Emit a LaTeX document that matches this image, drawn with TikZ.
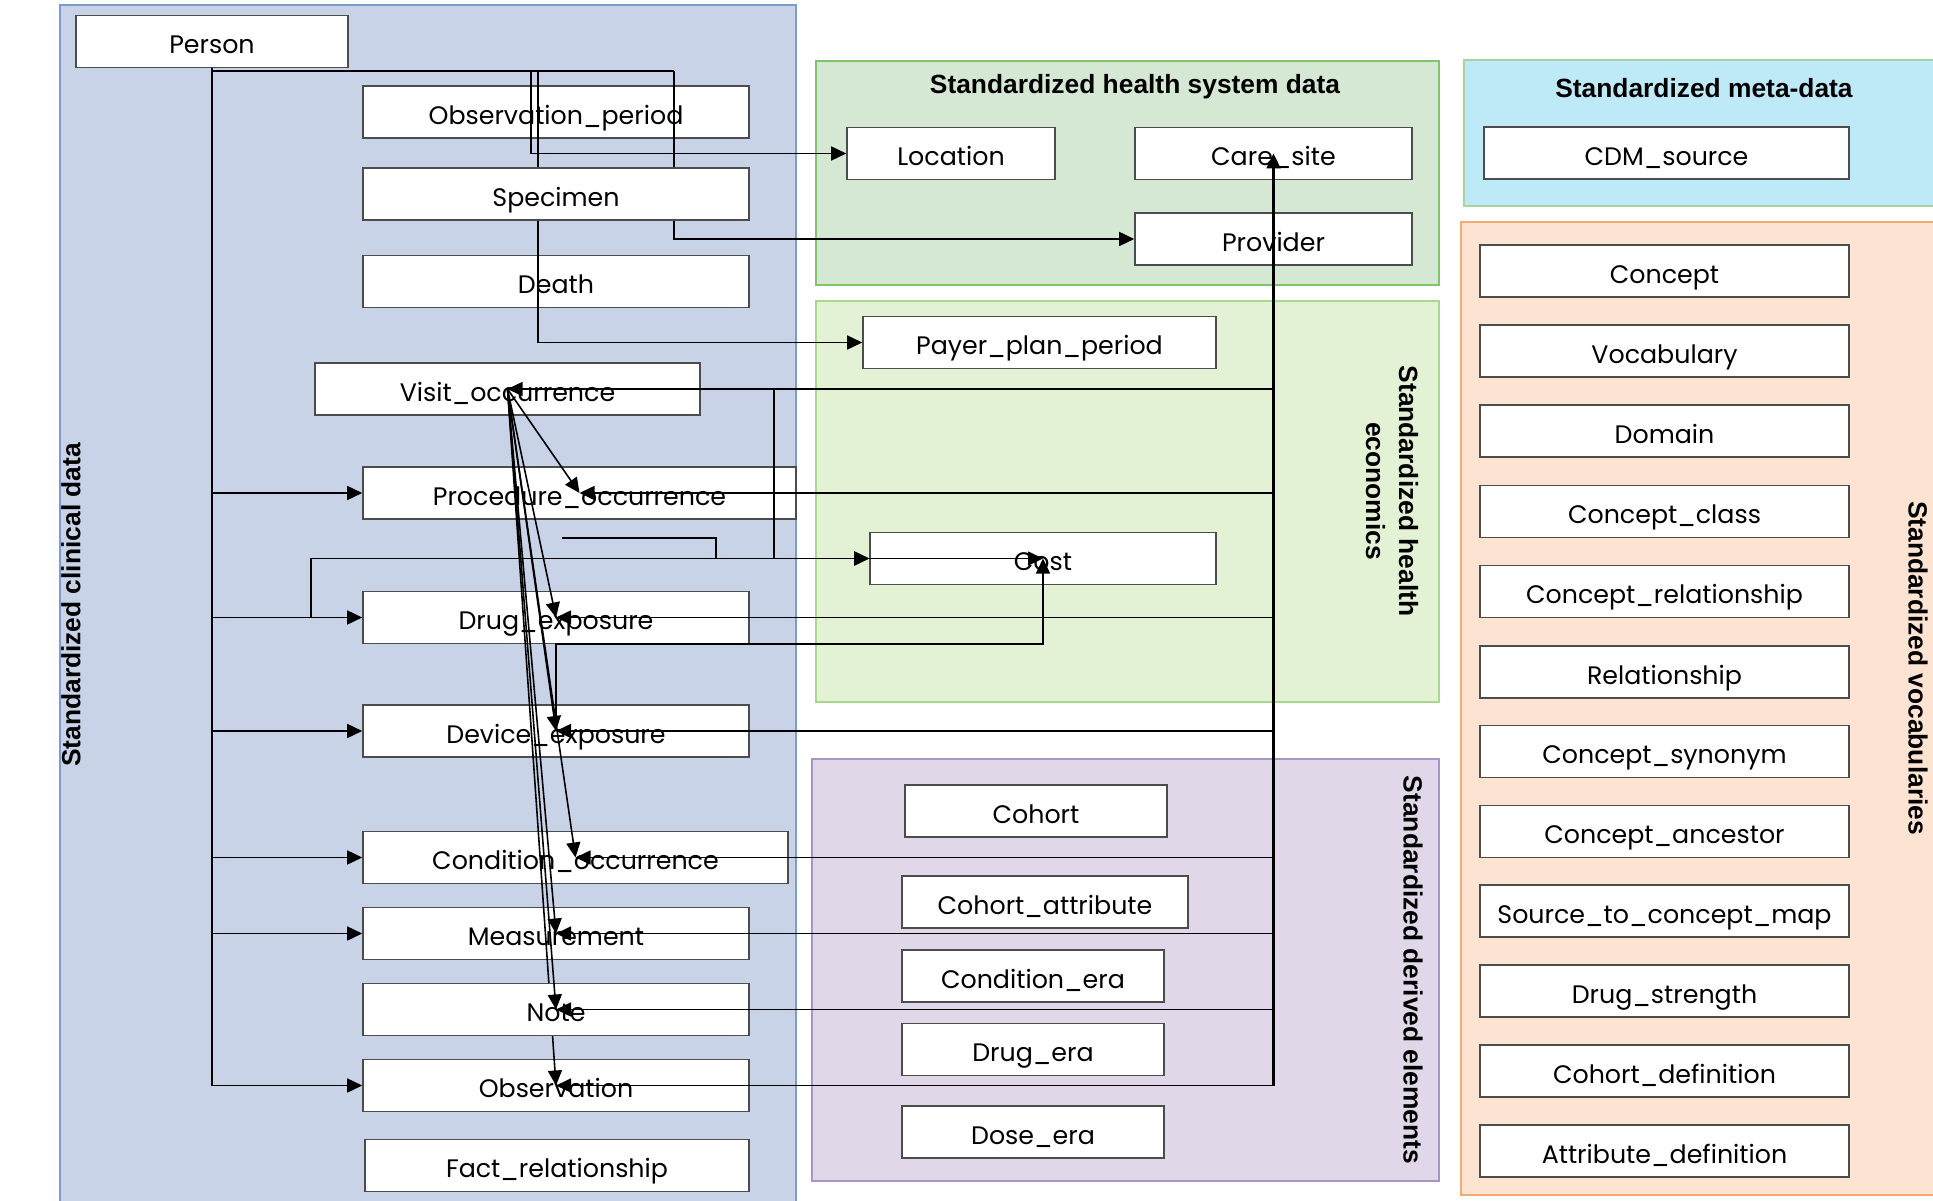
\documentclass[tikz,border=0pt]{standalone}
\usepackage{fontspec}
\newfontfamily\tablefont{Poppins}
\newfontfamily\headfont{Liberation Sans}
\usepackage{tikz}
\definecolor{cdmblue}{RGB}{201,211,232}
\definecolor{cdmblueline}{RGB}{126,155,208}
\definecolor{cdmgreen}{RGB}{213,232,212}
\definecolor{cdmgreenline}{RGB}{130,195,110}
\definecolor{cdmlime}{RGB}{227,241,213}
\definecolor{cdmlimeline}{RGB}{168,217,138}
\definecolor{cdmviolet}{RGB}{224,216,233}
\definecolor{cdmvioletline}{RGB}{168,149,200}
\definecolor{cdmcyan}{RGB}{190,234,248}
\definecolor{cdmcyanline}{RGB}{167,211,160}
\definecolor{cdmpeach}{RGB}{253,228,210}
\definecolor{cdmpeachline}{RGB}{244,170,112}
\usetikzlibrary{
  arrows.meta,
  calc
}

\begin{document}
\begin{tikzpicture}[
  panel/.style={line width=0.5pt},
  cdmtable/.style={
    draw=black!70, fill=white, line width=0.45pt,
    minimum height=0.52cm, inner sep=0pt,
    text height=0.7em, text depth=0pt,
    font=\tablefont\fontsize{7.2}{9}\selectfont
  },
  head/.style={
    font=\headfont\bfseries\fontsize{7.5}{9.4}\selectfont,
    align=center
  },
  link/.style={line width=0.45pt},
  trunk/.style={line width=0.65pt},
  arr/.style={-{Triangle[length=0.15cm,width=0.14cm]}, line width=0.45pt},
]
\useasboundingbox (0,0) rectangle (19.33,-12.01);

% Panels
\draw[panel, fill=cdmblue,   draw=cdmblueline]   (0.60,-0.05) rectangle (7.96,-12.10);
\draw[panel, fill=cdmgreen,  draw=cdmgreenline]  (8.16,-0.61) rectangle (14.39,-2.85);
\draw[panel, fill=cdmlime,   draw=cdmlimeline]   (8.16,-3.01) rectangle (14.39,-7.02);
\draw[panel, fill=cdmviolet, draw=cdmvioletline] (8.12,-7.59) rectangle (14.39,-11.81);
\draw[panel, fill=cdmcyan,   draw=cdmcyanline]   (14.64,-0.60) rectangle (19.40,-2.06);
\draw[panel, fill=cdmpeach,  draw=cdmpeachline]  (14.61,-2.22) rectangle (19.40,-11.95);

\node[head, rotate=90]  (clintitle)  at (0.71,-6.05)  {Standardized clinical data};
\node[head]             (hsystitle)  at (11.35,-0.87) {Standardized health system data};
\node[head, rotate=-90] (econtitle)  at (13.92,-4.91) {Standardized health\\economics};
\node[head, rotate=-90] (derivtitle) at (14.13,-9.70) {Standardized derived elements};
\node[head]             (metatitle)  at (17.04,-0.88) {Standardized meta-data};
\node[head, rotate=-90] (vocabtitle) at (19.18,-6.68) {Standardized vocabularies};

% Standardized clinical data
\node[cdmtable, minimum width=2.72cm] (person)    at (2.12,-0.415)  {Person};
\node[cdmtable, minimum width=3.86cm] (obsperiod) at (5.56,-1.12)   {Observation\_period};
\node[cdmtable, minimum width=3.86cm] (specimen)  at (5.56,-1.94)   {Specimen};
\node[cdmtable, minimum width=3.86cm] (death)     at (5.56,-2.815)  {Death};
\node[cdmtable, minimum width=3.85cm] (visit)     at (5.075,-3.89)  {Visit\_occurrence};
\node[cdmtable, minimum width=4.33cm] (proc)      at (5.795,-4.93)  {Procedure\_occurrence};
\node[cdmtable, minimum width=3.86cm] (drug)      at (5.56,-6.175)  {Drug\_exposure};
\node[cdmtable, minimum width=3.86cm] (device)    at (5.56,-7.31)   {Device\_exposure};
\node[cdmtable, minimum width=4.25cm] (cond)      at (5.755,-8.575) {Condition\_occurrence};
\node[cdmtable, minimum width=3.86cm] (meas)      at (5.56,-9.335)  {Measurement};
\node[cdmtable, minimum width=3.86cm] (note)      at (5.56,-10.095) {Note};
\node[cdmtable, minimum width=3.86cm] (obs)       at (5.56,-10.855) {Observation};
\node[cdmtable, minimum width=3.84cm] (factrel)   at (5.57,-11.655) {Fact\_relationship};

% Health system data and health economics
\node[cdmtable, minimum width=2.08cm] (location) at (9.51,-1.535)   {Location};
\node[cdmtable, minimum width=2.77cm] (caresite) at (12.735,-1.535) {Care\_site};
\node[cdmtable, minimum width=2.77cm] (provider) at (12.735,-2.39)  {Provider};
\node[cdmtable, minimum width=3.53cm] (payer)    at (10.395,-3.425) {Payer\_plan\_period};
\node[cdmtable, minimum width=3.46cm] (cost)     at (10.43,-5.585)  {Cost};

% Derived elements
\node[cdmtable, minimum width=2.62cm] (cohort)     at (10.36,-8.11)   {Cohort};
\node[cdmtable, minimum width=2.86cm] (cohortattr) at (10.45,-9.02)   {Cohort\_attribute};
\node[cdmtable, minimum width=2.62cm] (condera)    at (10.33,-9.76)   {Condition\_era};
\node[cdmtable, minimum width=2.62cm] (drugera)    at (10.33,-10.495) {Drug\_era};
\node[cdmtable, minimum width=2.62cm] (doseera)    at (10.33,-11.32)  {Dose\_era};

% Meta-data and vocabularies
\node[cdmtable, minimum width=3.65cm] (cdmsource)    at (16.665,-1.53)  {CDM\_source};
\node[cdmtable, minimum width=3.69cm] (concept)      at (16.645,-2.71)  {Concept};
\node[cdmtable, minimum width=3.69cm] (vocab)        at (16.645,-3.51)  {Vocabulary};
\node[cdmtable, minimum width=3.69cm] (domain)       at (16.645,-4.31)  {Domain};
\node[cdmtable, minimum width=3.69cm] (conceptclass) at (16.645,-5.115) {Concept\_class};
\node[cdmtable, minimum width=3.69cm] (conceptrel)   at (16.645,-5.915) {Concept\_relationship};
\node[cdmtable, minimum width=3.69cm] (relationship) at (16.645,-6.72)  {Relationship};
\node[cdmtable, minimum width=3.69cm] (synonym)      at (16.645,-7.515) {Concept\_synonym};
\node[cdmtable, minimum width=3.69cm] (ancestor)     at (16.645,-8.315) {Concept\_ancestor};
\node[cdmtable, minimum width=3.69cm] (sourcemap)    at (16.645,-9.11)  {Source\_to\_concept\_map};
\node[cdmtable, minimum width=3.69cm] (drugstrength) at (16.645,-9.91)  {Drug\_strength};
\node[cdmtable, minimum width=3.69cm] (cohortdef)    at (16.645,-10.71) {Cohort\_definition};
\node[cdmtable, minimum width=3.69cm] (attrdef)      at (16.645,-11.51) {Attribute\_definition};

% Links from Person
\coordinate (bus1) at (5.31,-0.71);
\coordinate (bus2) at (5.38,-0.71);
\coordinate (bus3) at (6.74,-0.71);
\draw[trunk] (person.south) |- (bus3);
\draw[trunk] (person.south) -- (person.south |- obs.west);
\draw[arr] (bus1) |- (location.west);
\draw[link] (bus2) -- (bus2 |- specimen.north);
\draw[arr] (bus2 |- specimen.south) |- (payer.west);
\draw[link] (bus3) -- (bus3 |- specimen.north);
\draw[arr] (bus3 |- specimen.south) |- (provider.west);
\draw[arr] (person.south |- proc.west)   -- (proc.west);
\draw[arr] (person.south |- drug.west)   -- (drug.west);
\draw[arr] (person.south |- device.west) -- (device.west);
\draw[arr] (person.south |- cond.west)   -- (cond.west);
\draw[arr] (person.south |- meas.west)   -- (meas.west);
\draw[arr] (person.south |- obs.west)    -- (obs.west);

% Links to Care_site
\draw[arr, trunk] (caresite.center |- obs.center) -- (caresite.center);
\draw[arr] (caresite.center |- visit.center)  -- (visit.center);
\draw[arr] (caresite.center |- proc.center)   -- (proc.center);
\draw[arr] (caresite.center |- drug.center)   -- (drug.center);
\draw[arr] (caresite.center |- device.center) -- (device.center);
\draw[arr] (caresite.center |- cond.center)   -- (cond.center);
\draw[arr] (caresite.center |- meas.center)   -- (meas.center);
\draw[arr] (caresite.center |- note.center)   -- (note.center);
\draw[arr] (caresite.center |- obs.center)    -- (obs.center);

% Links from Visit_occurrence
\draw[arr] (visit.center) -- (proc.center);
\draw[arr] (visit.center) -- (drug.center);
\draw[arr] (visit.center) -- (device.center);
\draw[arr] (visit.center) -- (cond.center);
\draw[arr] (visit.center) -- (meas.center);
\draw[arr] (visit.center) -- (note.center);
\draw[link] (visit.center) -- ($(visit.center)!0.853!(obs.center)$);
\draw[arr] ($(visit.center)!0.929!(obs.center)$) -- (obs.center);

% Links to Cost
\coordinate (procout)   at (5.62,-5.38);
\coordinate (procbend)  at (7.16,-5.585);
\coordinate (visitbend) at (7.74,-5.585);
\coordinate (drugbend)  at (3.11,-5.585);
\coordinate (devout)    at (5.56,-6.44);
\draw[arr] (visit.east) -| (visitbend) -- (cost.center);
\draw[arr] (procout) -| (procbend) -- (cost.west);
\draw[arr] (drug.west) -| (drugbend) -- (cost.west);
\draw[arr] (device.center) -- (devout) -| (cost.center);

\end{tikzpicture}
\end{document}
